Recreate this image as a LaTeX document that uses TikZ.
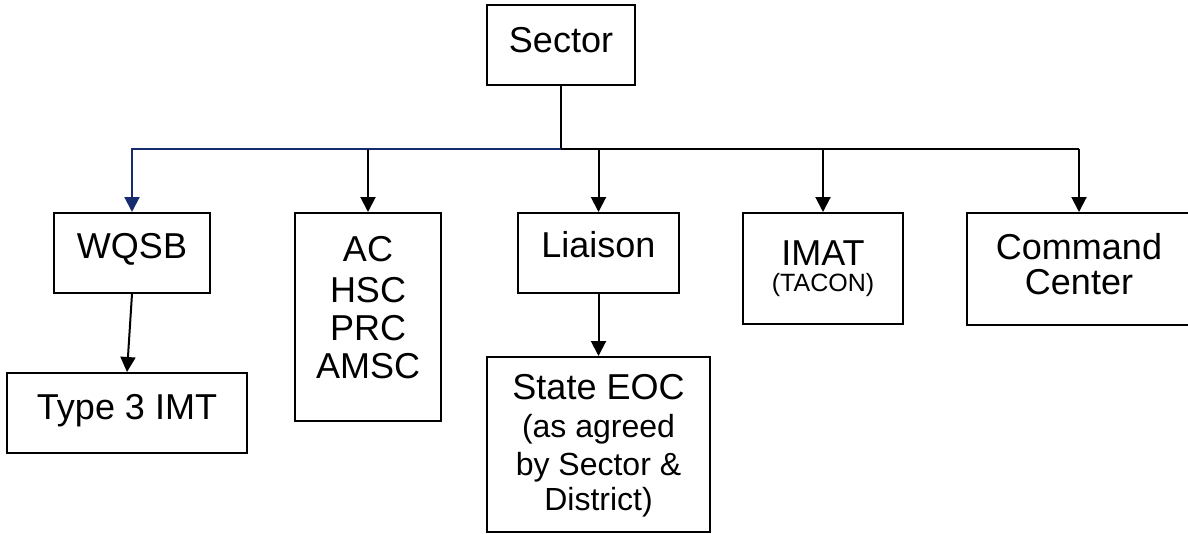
\documentclass[tikz,border=0pt]{standalone}
\usepackage{fontspec}
\setmainfont{Liberation Sans}
\usetikzlibrary{arrows.meta}
\definecolor{busblue}{RGB}{22,44,110}
\newcommand{\subtxt}{\fontsize{32}{37}\selectfont}
\newcommand{\tinytxt}{\fontsize{25}{28}\selectfont}
\tikzset{
  box/.style={draw=black, line width=2pt, fill=white, inner sep=0pt},
  lbl/.style={font=\fontsize{36}{40}\selectfont, align=center, inner sep=0pt, anchor=base},
  link/.style={line width=2pt, draw=black},
  feed/.style={line width=2pt, draw=black, -{Triangle[width=15pt,length=15pt]}},
  bluefeed/.style={line width=2pt, draw=busblue, -{Triangle[width=15pt,length=15pt]}}
}
\begin{document}
\begin{tikzpicture}[x=1pt,y=-1pt]
\useasboundingbox (0,0) rectangle (1188,533);

% boxes
\node[box, minimum width=148pt, minimum height=80pt]  (sector)  at (561,45) {};
\node[box, minimum width=156pt, minimum height=80pt]  (wqsb)    at (132,253) {};
\node[box, minimum width=240pt, minimum height=80pt]  (type3)   at (127,413) {};
\node[box, minimum width=146pt, minimum height=208pt] (ac)      at (368,317) {};
\node[box, minimum width=161pt, minimum height=80pt]  (liaison) at (598.5,253) {};
\node[box, minimum width=223pt, minimum height=175pt] (eoc)     at (598.5,444.5) {};
\node[box, minimum width=160pt, minimum height=111pt] (imat)    at (823,268.5) {};
\node[box, minimum width=224pt, minimum height=112pt] (cmd)     at (1079,269) {};

% box texts (multi-line texts are placed by the baseline of their last line)
\node[lbl] (sectorT)  at (561,52)   {Sector};
\node[lbl] (wqsbT)    at (132,258)  {WQSB};
\node[lbl] (type3T)   at (127,419)  {Type 3 IMT};
\node[lbl] (acT)      at (368,378)  {AC\\[1pt]HSC\\[-2pt]PRC\\[-2pt]AMSC};
\node[lbl] (liaisonT) at (598.5,257) {Liaison};
\node[lbl] (eocT)     at (598.5,510) {State EOC\\[-2pt]\subtxt (as agreed\\[-2pt]\subtxt by Sector \&\\[-5pt]\subtxt District)};
\node[lbl] (imatT)    at (823,291)  {IMAT\\[-14pt]\tinytxt (TACON)};
\node[lbl] (cmdT)     at (1079,294) {Command\\[-5pt]Center};

% distribution bus
\coordinate (busM) at (sector.south |- 0,149);
\coordinate (busL) at (wqsb.north |- busM);
\coordinate (busAC) at (ac.north |- busM);
\coordinate (busLi) at (liaison.north |- busM);
\coordinate (busIM) at (imat.north |- busM);
\coordinate (busR) at (cmd.north |- busM);

\draw[link] (sector.south) -- (busM) -- (busR);
\draw[bluefeed] (busM) -- (busL) -- (wqsb.north);
\draw[feed] (busAC) -- (ac.north);
\draw[feed] (busLi) -- (liaison.north);
\draw[feed] (busIM) -- (imat.north);
\draw[feed] (busR) -- (cmd.north);

% sub-level links
\draw[feed] (wqsb.south) -- (type3.north);
\draw[feed] (liaison.south) -- (eoc.north);
\end{tikzpicture}
\end{document}
